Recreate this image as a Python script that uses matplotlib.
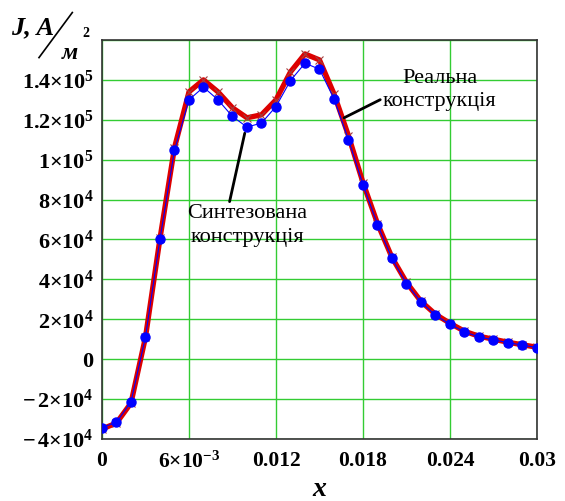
import numpy as np
import matplotlib.pyplot as plt
from matplotlib.lines import Line2D

# x coordinate, m
x = [0.000, 0.001, 0.002, 0.003, 0.004, 0.005, 0.006, 0.007, 0.008, 0.009,
     0.010, 0.011, 0.012, 0.013, 0.014, 0.015, 0.016, 0.017, 0.018, 0.019,
     0.020, 0.021, 0.022, 0.023, 0.024, 0.025, 0.026, 0.027, 0.028, 0.029, 0.030]

# real construction (red line)
j_real = [-35000, -32000, -22000, 11000, 60500, 106000, 134000, 140000, 134000, 126000,
          121000, 122500, 130000, 144000, 153000, 150000, 133000, 112000, 88500, 68000,
          51000, 38500, 29000, 22500, 18000, 14000, 11500, 10000, 8500, 7200, 6000]

# synthesized construction (blue points)
j_synth = [-34250, -31650, -21350, 11150, 60250, 104750, 130000, 136350, 130000, 121650,
           116350, 118350, 126650, 139650, 148350, 145350, 130500, 110000, 87500, 67500,
           50500, 37850, 28650, 22000, 17500, 13650, 11150, 9650, 8350, 7000, 5850]

xticks = [0, 0.006, 0.012, 0.018, 0.024, 0.03]
xlabels = ['0', r'$\mathbf{6{\times}10^{-3}}$', '0.012', '0.018', '0.024', '0.03']
yticks = [-40000, -20000, 0, 20000, 40000, 60000, 80000, 100000, 120000, 140000, 160000]
ylabels = [r'$\mathbf{-\,4{\times}10^{4}}$', r'$\mathbf{-\,2{\times}10^{4}}$', '0',
           r'$\mathbf{2{\times}10^{4}}$', r'$\mathbf{4{\times}10^{4}}$', r'$\mathbf{6{\times}10^{4}}$',
           r'$\mathbf{8{\times}10^{4}}$', r'$\mathbf{1{\times}10^{5}}$', r'$\mathbf{1.2{\times}10^{5}}$',
           r'$\mathbf{1.4{\times}10^{5}}$', '']

plt.rcParams['font.family'] = 'Liberation Serif'
plt.rcParams['mathtext.fontset'] = 'custom'
plt.rcParams['mathtext.rm'] = 'Liberation Serif'
plt.rcParams['mathtext.bf'] = 'Liberation Serif:bold'
plt.rcParams['mathtext.it'] = 'Liberation Serif:italic:bold'

fig = plt.figure(figsize=(5.65, 5.01), dpi=100)
ax = fig.add_axes([0.1805, 0.1238, 0.7699, 0.7964])

ax.plot(x, j_real, '-', color='#dd0000', lw=3.8, zorder=3)
ax.plot(x, j_real, 'x', color='#a04040', ms=6, mew=0.8, zorder=4)
ax.plot(x, j_synth, '-', color='#0000ff', lw=0.8, zorder=5)
ax.plot(x, j_synth, 'o', color='#0000ff', ms=6.5, zorder=6)

ax.set_xlim(0, 0.03)
ax.set_ylim(-40000, 160000)
ax.set_xticks(xticks)
ax.set_xticklabels(xlabels, fontsize=15.5, fontweight='bold')
ax.set_yticks(yticks)
ax.set_yticklabels(ylabels, fontsize=16, fontweight='bold')
ax.tick_params(length=0, pad=6)
ax.tick_params(axis='x', pad=9)
ax.grid(True, color='#33cc33', lw=1.0)
for s in ax.spines.values():
    s.set_color('#333333')
    s.set_linewidth(1.2)

ax.set_xlabel('x', fontsize=20, fontweight='bold', style='italic', labelpad=3)

# y label "J, A/m^2" drawn in pieces
fig.text(0.02, 0.932, 'J, A', fontsize=19, fontweight='bold', style='italic')
fig.add_artist(Line2D([0.069, 0.128], [0.885, 0.975], color='black', lw=1.2))
fig.text(0.11, 0.882, 'м', fontsize=17, fontweight='bold', style='italic')
fig.text(0.145, 0.926, '2', fontsize=10, fontweight='bold')

# annotations
ax.annotate('Реальна\nконструкція', xy=(0.0167, 121000), xytext=(0.0233, 135000),
            fontsize=16, ha='center', va='center', linespacing=1.3,
            arrowprops=dict(arrowstyle='-', color='black', lw=2.0, shrinkA=0, shrinkB=0,
                            relpos=(0.0, 0.3)))
ax.annotate('Синтезована\nконструкція', xy=(0.00993, 116000), xytext=(0.0100, 67000),
            fontsize=16, ha='center', va='center', linespacing=1.3,
            arrowprops=dict(arrowstyle='-', color='black', lw=2.0, shrinkA=0, shrinkB=4,
                            relpos=(0.35, 1.0)))

fig.savefig('out.png', dpi=100)
